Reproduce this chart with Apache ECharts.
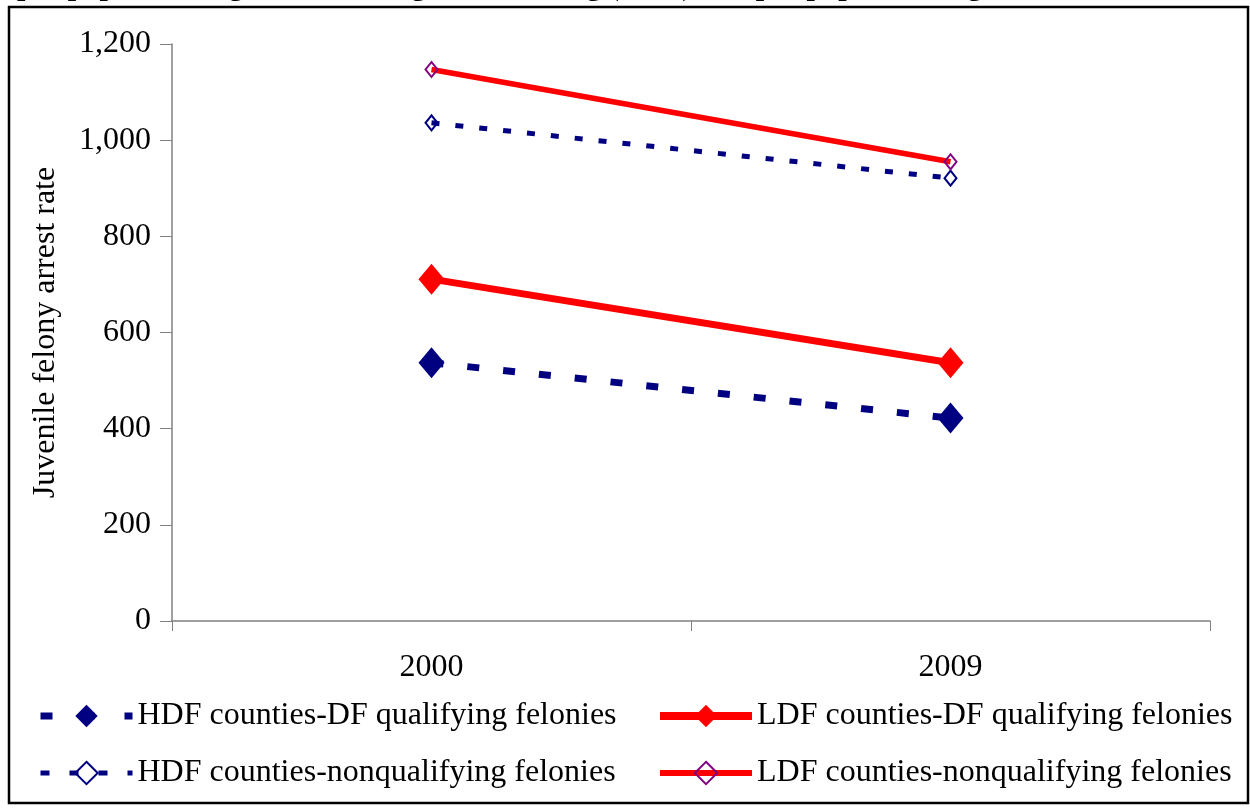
<!DOCTYPE html>
<html>
<head>
<meta charset="utf-8">
<script src="https://cdn.jsdelivr.net/npm/echarts@6/dist/echarts.min.js"></script>
<style>
html,body{margin:0;padding:0;background:#fff;}
#chart{width:1250px;height:808px;}
</style>
</head>
<body>
<div id="chart"></div>
<script>
const categories = ['2000', '2009'];
const hdfQualifying = [537, 422];
const ldfQualifying = [711, 537];
const hdfNonqualifying = [1036, 921];
const ldfNonqualifying = [1147, 955];
const seriesNames = [
  'HDF counties-DF qualifying felonies',
  'LDF counties-DF qualifying felonies',
  'HDF counties-nonqualifying felonies',
  'LDF counties-nonqualifying felonies'
];
const yTicks = { min: 0, max: 1200, interval: 200 };
const titleText = 'per population ages 10-17 in high direct-filing (HDF) and per population ages 10-17 in low direct-filing (LDF) counties)';

const FONT = '"Liberation Serif", "Times New Roman", serif';
const chart = echarts.init(document.getElementById('chart'), null, { renderer: 'canvas' });

const styles = [
  { color: '#000080', width: 7, type: [12, 24], size: [26, 31], fill: '#000080', border: '#000080', bw: 0, legendW: 7, legendType: [12, 30] },
  { color: '#ff0000', width: 7, type: 'solid', size: [26, 31], fill: '#ff0000', border: '#ff0000', bw: 0, legendW: 8, legendType: 'solid' },
  { color: '#000080', width: 5, type: [8, 16], size: [12, 15], fill: 'rgba(255,255,255,0)', border: '#000080', bw: 2, legendW: 5, legendType: [9, 20] },
  { color: '#ff0000', width: 5.5, type: 'solid', size: [12, 15], fill: 'rgba(255,255,255,0)', border: '#800080', bw: 2, legendW: 6, legendType: 'solid' }
];
const datasets = [hdfQualifying, ldfQualifying, hdfNonqualifying, ldfNonqualifying];

function legendItem(i) {
  const s = styles[i];
  return { name: seriesNames[i], lineStyle: { width: s.legendW, type: s.legendType, color: s.color } };
}

const option = {
  backgroundColor: '#ffffff',
  animation: false,
  title: {
    text: titleText,
    left: 12,
    top: -33,
    textStyle: { fontFamily: FONT, fontSize: 30, fontWeight: 'bold', color: '#000' }
  },
  graphic: [{
    type: 'rect',
    shape: { x: 9, y: 7, width: 1239, height: 796 },
    style: { fill: 'none', stroke: '#000', lineWidth: 2.5 },
    z: 100
  }],
  grid: { left: 172, right: 40, top: 44, bottom: 187 },
  legend: [{
    orient: 'vertical',
    left: 32,
    top: 695,
    itemWidth: 92,
    itemHeight: 28,
    itemGap: 25,
    textStyle: { fontFamily: FONT, fontSize: 32, color: '#000' },
    data: [legendItem(0), legendItem(2)]
  }, {
    orient: 'vertical',
    left: 651,
    top: 695,
    itemWidth: 92,
    itemHeight: 28,
    itemGap: 25,
    textStyle: { fontFamily: FONT, fontSize: 32, color: '#000' },
    data: [legendItem(1), legendItem(3)]
  }],
  xAxis: {
    type: 'category',
    data: categories,
    boundaryGap: true,
    axisLine: { lineStyle: { color: '#808080', width: 1.5 } },
    axisTick: { show: true, inside: false, length: 10, lineStyle: { color: '#808080' } },
    axisLabel: { fontFamily: FONT, fontSize: 32, color: '#000', margin: 31 },
    splitLine: { show: false }
  },
  yAxis: {
    type: 'value',
    min: yTicks.min,
    max: yTicks.max,
    interval: yTicks.interval,
    name: 'Juvenile felony arrest rate',
    nameLocation: 'middle',
    nameRotate: 90,
    nameGap: 110,
    nameTextStyle: { fontFamily: FONT, fontSize: 32, color: '#000' },
    axisLine: { show: true, lineStyle: { color: '#808080', width: 1.5 } },
    axisTick: { show: true, inside: false, length: 12, lineStyle: { color: '#808080' } },
    axisLabel: {
      fontFamily: FONT, fontSize: 32, color: '#000', margin: 21,
      formatter: v => v.toLocaleString('en-US')
    },
    splitLine: { show: false }
  },
  series: datasets.map((d, i) => ({
    name: seriesNames[i],
    type: 'line',
    data: d,
    symbol: 'diamond',
    symbolSize: styles[i].size,
    itemStyle: { color: styles[i].fill, borderColor: styles[i].border, borderWidth: styles[i].bw },
    lineStyle: { color: styles[i].color, width: styles[i].width, type: styles[i].type },
    z: 2 + i
  }))
};
chart.setOption(option);
</script>
</body>
</html>
